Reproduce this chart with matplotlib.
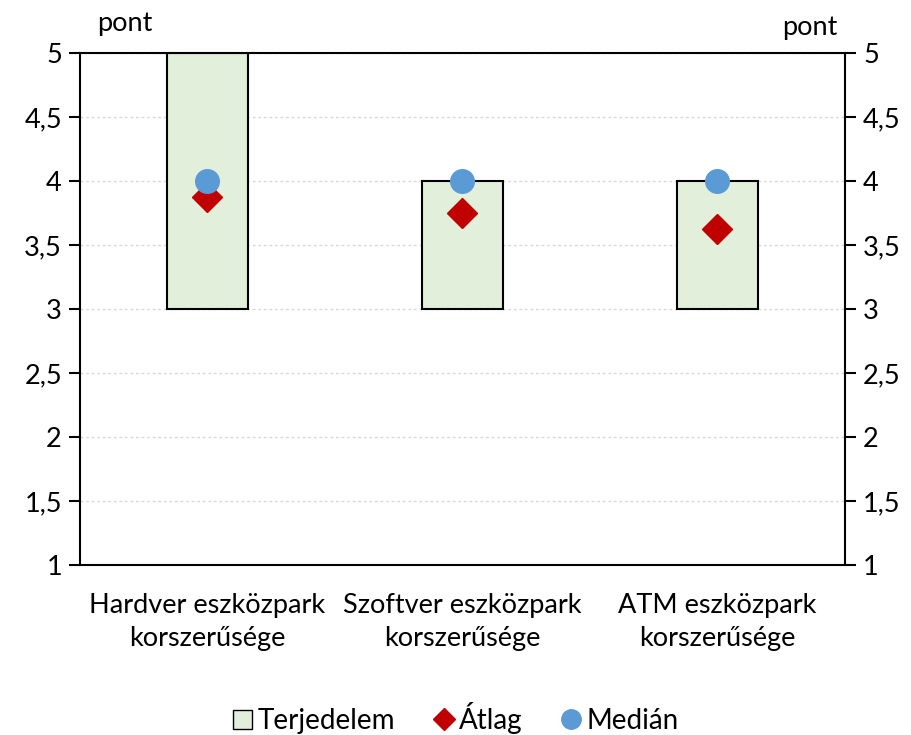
import matplotlib

matplotlib.use("Agg")
import matplotlib.pyplot as plt
from matplotlib.lines import Line2D
from matplotlib.patches import Patch
import numpy as np

categories = ["Hardver eszközpark\nkorszerűsége", "Szoftver eszközpark\nkorszerűsége", "ATM eszközpark\nkorszerűsége"]
range_low = [3, 3, 3]
range_high = [5, 4, 4]
mean_values = [3.875, 3.75, 3.625]
median_values = [4, 4, 4]
y_ticks = [1, 1.5, 2, 2.5, 3, 3.5, 4, 4.5, 5]
y_tick_labels = ["1", "1,5", "2", "2,5", "3", "3,5", "4", "4,5", "5"]

plt.rcParams["font.family"] = ["Lato", "DejaVu Sans"]
plt.rcParams["font.size"] = 19.5

fig = plt.figure(figsize=(9.12, 7.35), dpi=100)
ax = fig.add_axes([80 / 912, 170 / 735, 765 / 912, 512 / 735])

x = np.arange(len(categories))
heights = np.array(range_high) - np.array(range_low)
ax.bar(x, heights, bottom=range_low, width=0.314, color="#E2EFDA",
       edgecolor="black", linewidth=1.5, zorder=2)
ax.plot(x, mean_values, linestyle="none", marker="D", markersize=15,
        color="#C00000", zorder=3)
ax.plot(x, median_values, linestyle="none", marker="o", markersize=17,
        color="#5B9BD5", zorder=4)

ax.set_xlim(-0.5, 2.5)
ax.set_ylim(1, 5)
ax.set_yticks(y_ticks)
ax.set_yticklabels(y_tick_labels)
ax.set_xticks(x)
ax.set_xticklabels(categories, linespacing=1.42)
ax.tick_params(axis="x", length=0, pad=20)
ax.tick_params(axis="y", length=8, width=1.5, direction="out", pad=5,
               right=True, labelright=True)
ax.grid(axis="y", color="#D9D9D9", linestyle=(0, (2, 2)), linewidth=1, zorder=0)
for spine in ax.spines.values():
    spine.set_linewidth(1.5)

fig.text(97 / 912, 1 - 24 / 735, "pont", ha="left", va="center", fontsize=19.5)
fig.text(838 / 912, 1 - 28 / 735, "pont", ha="right", va="center", fontsize=19.5)

handles = [
    Patch(facecolor="#E2EFDA", edgecolor="black", linewidth=1),
    Line2D([], [], linestyle="none", marker="D", markersize=11, color="#C00000"),
    Line2D([], [], linestyle="none", marker="o", markersize=14, color="#5B9BD5"),
]
fig.legend(handles, ["Terjedelem", "Átlag", "Medián"], loc="center",
           bbox_to_anchor=(0.5, 1 - 718 / 735), ncol=3, frameon=False,
           handlelength=0.7, handleheight=0.7, handletextpad=0.2,
           columnspacing=1.4, fontsize=20)

fig.savefig("out.png", dpi=100)
